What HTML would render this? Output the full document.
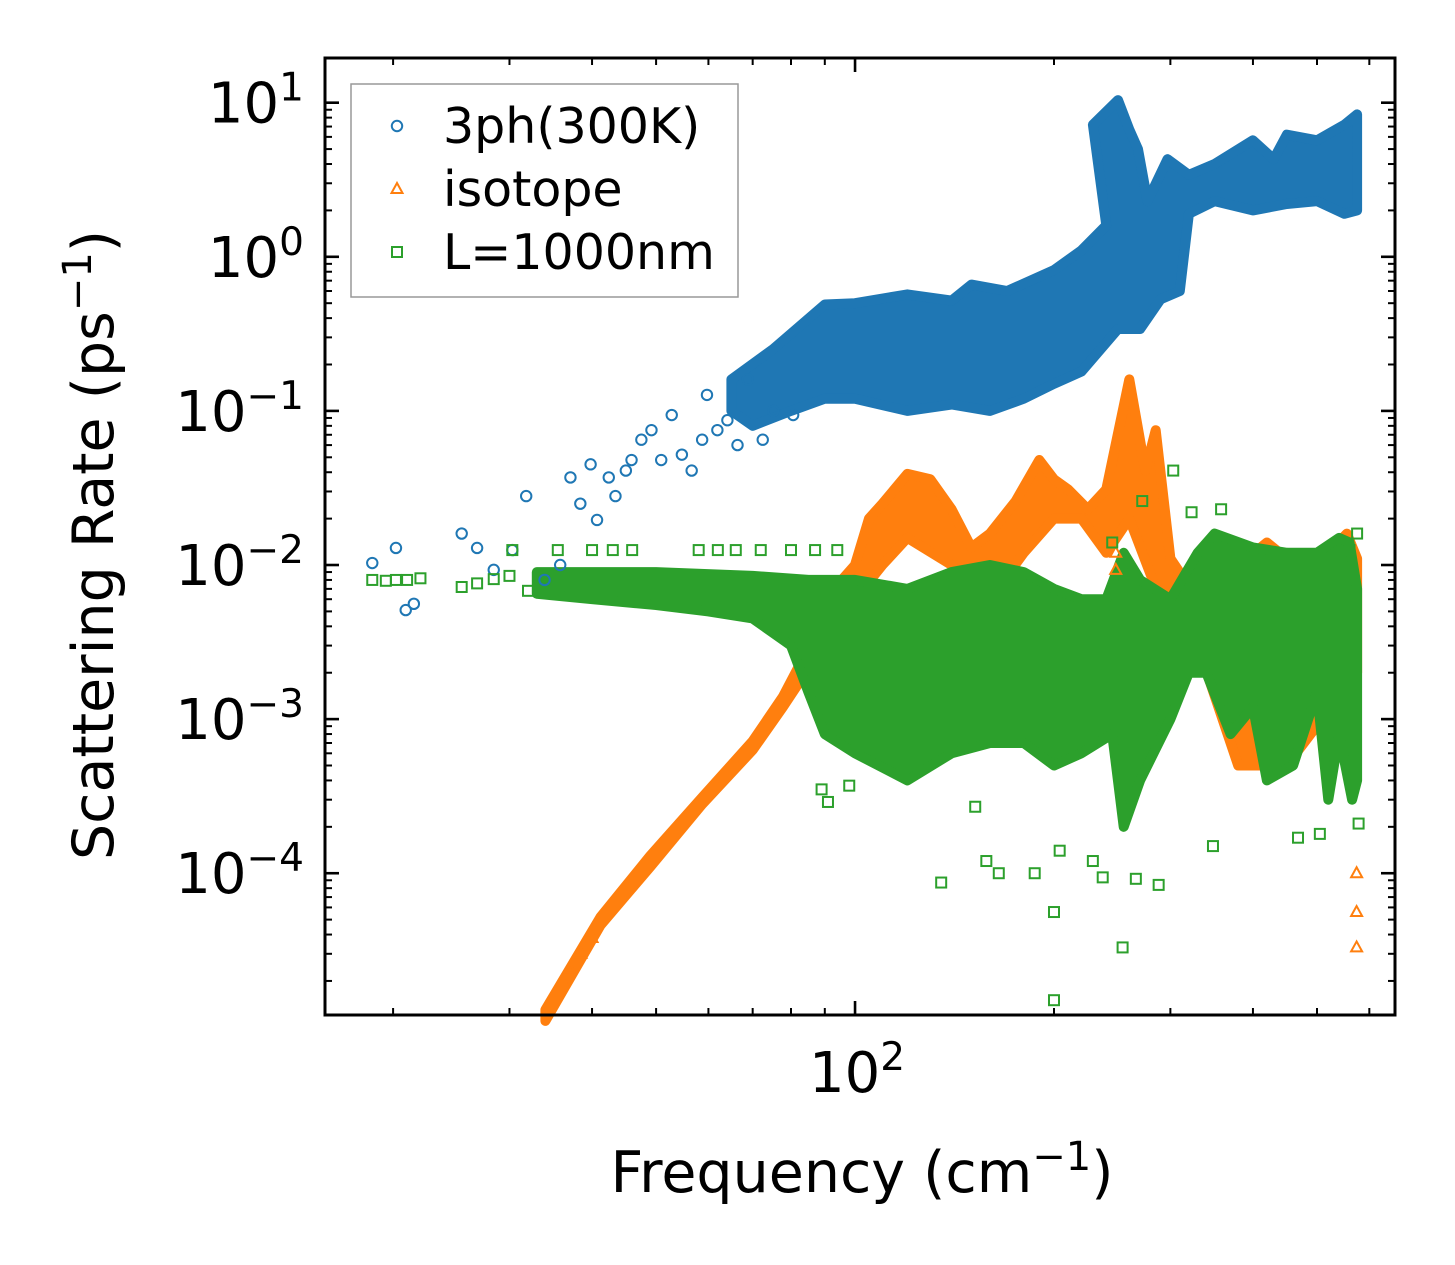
<!DOCTYPE html>
<html><head><meta charset="utf-8"><style>
html,body{margin:0;padding:0;background:#fff;}
svg{display:block;font-family:"DejaVu Sans","Liberation Sans",sans-serif;}
</style></head><body>
<svg id="chart" width="1455" height="1265" viewBox="0 0 1455 1265" xmlns="http://www.w3.org/2000/svg">
<g id="bands"></g>
<g id="marks"></g>
<g id="axes"></g>
<g id="legend"></g>
</svg>
<script>
// ---- data ----
const blueBandF = [65,75,90,100,120,140,150,170,200,220,240,229,250,260,268,277,297,320,350,400,430,450,500,550,575];
const blueBandHi = [0.16,0.25,0.49,0.5,0.57,0.52,0.66,0.6,0.82,1.1,1.6,7.2,10.4,6.7,5,2.3,4.3,3.4,4,5.7,4.3,6.2,5.7,7.2,8.4];
const blueBandLoF = [575,550,500,450,400,350,320,310,290,270,250,220,200,180,160,140,120,100,90,80,70,65];
const blueBandLo = [2.0,1.9,2.3,2.2,2.0,2.3,1.9,0.6,0.53,0.34,0.34,0.18,0.15,0.12,0.1,0.11,0.1,0.12,0.12,0.1,0.08,0.1];
const blueF = [18.6,20.2,20.9,21.5,25.4,26.8,28.4,30.3,31.8,33.9,35.8,37.1,38.4,39.8,40.7,42.4,43.4,45,45.9,47.5,49.2,50.9,52.8,54.7,56.6,58.7,59.7,61.9,64.1,66.4,68.8,72.5,75.2,80.6];
const blueR = [0.0103,0.0129,0.0051,0.0056,0.016,0.0129,0.0093,0.0125,0.028,0.008,0.01,0.037,0.025,0.045,0.0196,0.037,0.028,0.041,0.048,0.065,0.075,0.048,0.094,0.052,0.041,0.065,0.127,0.075,0.087,0.06,0.16,0.065,0.1,0.094];

const orangeBandF = [34,41.2,49,58.7,70,77.8,83.5,90,100,105,110,120,130,140,150,160,175,190,200,210,225,240,260,275,285,300,330,420,450,470,520,555,575];
const orangeBandHi = [1.3e-5,5.2e-5,1.3e-4,3.1e-4,7.2e-4,1.4e-3,2.5e-3,0.006,0.01,0.02,0.025,0.039,0.036,0.023,0.013,0.016,0.026,0.048,0.036,0.031,0.023,0.031,0.16,0.041,0.075,0.011,0.006,0.014,0.011,0.011,0.012,0.016,0.011];
const orangeBandLoF = [575,450,380,330,300,260,240,220,200,180,160,150,140,120,110,100,90,83.5,77.8,70,58.7,49,41.2,34];
const orangeBandLo = [0.002,0.0005,0.0005,0.003,0.004,0.02,0.012,0.02,0.02,0.012,0.006,0.007,0.01,0.015,0.01,0.006,0.004,1.9e-3,1.2e-3,6.3e-4,2.8e-4,1.1e-4,4.6e-5,1.1e-5];
const orangeF = [574,574,574,248,248,36,37,38.5,40];
const orangeR = [1.0e-4,5.6e-5,3.3e-5,0.012,0.0093,2.0e-5,2.4e-5,3.0e-5,3.8e-5];

const greenBandF = [33,50,70,85,100,120,140,160,180,200,220,240,255,270,300,330,350,400,450,500,540,560,575];
const greenBandHi = [0.009,0.009,0.0085,0.008,0.008,0.007,0.009,0.01,0.009,0.007,0.006,0.006,0.012,0.008,0.006,0.012,0.016,0.013,0.012,0.012,0.015,0.014,0.007];
const greenBandLoF = [575,565,540,520,500,460,420,400,370,340,320,300,270,255,245,220,200,180,160,140,120,100,90,85,80,70,60,50,40,33];
const greenBandLo = [0.0004,0.0003,0.0008,0.0003,0.0015,0.0005,0.0004,0.0012,0.0008,0.002,0.002,0.001,0.0004,0.0002,0.0008,0.0006,0.0005,0.0007,0.0007,0.0006,0.0004,0.0006,0.0008,0.0015,0.003,0.0045,0.005,0.0055,0.006,0.0065];
const greenF = [18.6,19.5,20.2,21,22,25.4,26.8,28.4,30,30.3,32,35.5,40,43,46,58,62,66,72,80,87,94,303,245,272,358,323,200,254,200,135,158,165,187,204,229,237,266,288,89,91,98,152,348,468,505,560,575,578];
const greenR = [0.008,0.0079,0.008,0.008,0.0082,0.0072,0.0076,0.0081,0.0085,0.0125,0.0068,0.0125,0.0125,0.0125,0.0125,0.0125,0.0125,0.0125,0.0125,0.0125,0.0125,0.0125,0.041,0.014,0.026,0.023,0.022,1.5e-5,3.3e-5,5.6e-5,8.7e-5,1.2e-4,1.0e-4,1.0e-4,1.4e-4,1.2e-4,9.4e-5,9.2e-5,8.4e-5,3.5e-4,2.9e-4,3.7e-4,2.7e-4,1.5e-4,1.7e-4,1.8e-4,0.0125,0.016,2.1e-4];

const yTickExps = [1,0,-1,-2,-3,-4];
const xTickExps = [2];

// ---- axes functions ----
const L=325,R=1395,T=58,B=1015;
const xLogMin=1.198, xLogMax=2.817;
const yLogMin=-4.92, yLogMax=1.29;
function X(f){return L+(Math.log10(f)-xLogMin)/(xLogMax-xLogMin)*(R-L);}
function Y(v){return B-(Math.log10(v)-yLogMin)/(yLogMax-yLogMin)*(B-T);}
const NS="http://www.w3.org/2000/svg";
function mk(tag,attrs,parent){const e=document.createElementNS(NS,tag);for(const k in attrs)e.setAttribute(k,attrs[k]);parent.appendChild(e);return e;}
const C={b:"#1f77b4",o:"#ff7f0e",g:"#2ca02c"};

const bands=document.getElementById('bands');
const marks=document.getElementById('marks');
function band(fh,vh,fl,vl,color,name){
  const pts=[];
  for(let i=0;i<fh.length;i++)pts.push(X(fh[i]).toFixed(1)+","+Y(vh[i]).toFixed(1));
  for(let i=0;i<fl.length;i++)pts.push(X(fl[i]).toFixed(1)+","+Y(vl[i]).toFixed(1));
  const p=mk('polygon',{points:pts.join(' '),fill:color,stroke:color,'stroke-width':10,'stroke-linejoin':'round'},bands);
  
  
}
function marker(type,x,y,color,parent){
  let e;
  if(type==='c') e=mk('circle',{cx:x,cy:y,r:5.2,fill:'none',stroke:color,'stroke-width':2},parent);
  else if(type==='t') e=mk('polygon',{points:`${x},${y-6} ${x-5.5},${y+4} ${x+5.5},${y+4}`,fill:'none',stroke:color,'stroke-width':2},parent);
  else e=mk('rect',{x:x-5,y:y-5,width:10,height:10,fill:'none',stroke:color,'stroke-width':2},parent);
  return e;
}
function scatter(fs,rs,type,color,name){
  for(let i=0;i<fs.length;i++){
    const y=Y(rs[i]); if(y>B||y<T) continue;
    const e=marker(type,X(fs[i]),y,color,marks);
    
    
  }
}
band(blueBandF,blueBandHi,blueBandLoF,blueBandLo,C.b,'3ph-band');
band(orangeBandF,orangeBandHi,orangeBandLoF,orangeBandLo,C.o,'isotope-band');
band(greenBandF,greenBandHi,greenBandLoF,greenBandLo,C.g,'boundary-band');
scatter(blueF,blueR,'c',C.b,'3ph-point');
scatter(orangeF,orangeR,'t',C.o,'isotope-point');
scatter(greenF,greenR,'s',C.g,'boundary-point');

// ---- axes ----
const ax=document.getElementById('axes');
const frame=mk('rect',{x:L,y:T,width:R-L,height:B-T,fill:'none',stroke:'#000','stroke-width':3},ax);


function tick(x1,y1,x2,y2,w){mk('line',{x1,y1,x2,y2,stroke:'#000','stroke-width':w},ax);}
for(let e=-5;e<=1;e++){for(let m=1;m<=9;m++){const v=m*Math.pow(10,e);const y=Y(v);if(y<T||y>B)continue;const len=m===1?14:7;const w=m===1?2.6:2;tick(L,y,L+len,y,w);tick(R,y,R-len,y,w);}}
for(let e=1;e<=2;e++){for(let m=1;m<=9;m++){const f=m*Math.pow(10,e);const x=X(f);if(x<L||x>R)continue;const len=m===1?14:7;const w=m===1?2.6:2;tick(x,B,x,B-len,w);tick(x,T,x,T+len,w);}}
function powLabel(x,y,exp,anchor,name){
  const t=mk('text',{x,y,'font-size':56,'text-anchor':anchor,fill:'#000'},ax);
  
  
  const a=document.createElementNS(NS,'tspan');a.textContent='10';t.appendChild(a);
  const s=document.createElementNS(NS,'tspan');s.setAttribute('dy','-22');s.setAttribute('font-size','39');s.textContent=exp<0?'\u2212'+(-exp):String(exp);t.appendChild(s);
}
yTickExps.forEach(e=>powLabel(304,Y(Math.pow(10,e))+20,e,'end','y-tick-label'));
xTickExps.forEach(e=>powLabel(X(Math.pow(10,e))+2,1092,e,'middle','x-tick-label'));
const xl=mk('text',{x:862,y:1192,'font-size':57,'text-anchor':'middle',fill:'#000'},ax);


xl.innerHTML='Frequency (cm<tspan dy="-22" font-size="40">\u22121</tspan><tspan dy="22">)</tspan>';
const yl=mk('text',{x:0,y:0,'font-size':57,'text-anchor':'middle',fill:'#000',transform:'translate(113,545) rotate(-90)'},ax);


yl.innerHTML='Scattering Rate (ps<tspan dy="-22" font-size="40">\u22121</tspan><tspan dy="22">)</tspan>';

// ---- legend ----
const lg=document.getElementById('legend');
const box=mk('rect',{x:351,y:84,width:387,height:213,fill:'#fff','fill-opacity':0.8,stroke:'#999','stroke-width':1.5},lg);


const entries=[['3ph(300K)','c',C.b,126],['isotope','t',C.o,189],['L=1000nm','s',C.g,252]];
entries.forEach(en=>{
  const m=marker(en[1],397,en[3],en[2],lg);
  
  
  const t=mk('text',{x:443,y:en[3]+17,'font-size':49,fill:'#000'},lg);
  t.textContent=en[0];
  
  
});
</script>
</body></html>
